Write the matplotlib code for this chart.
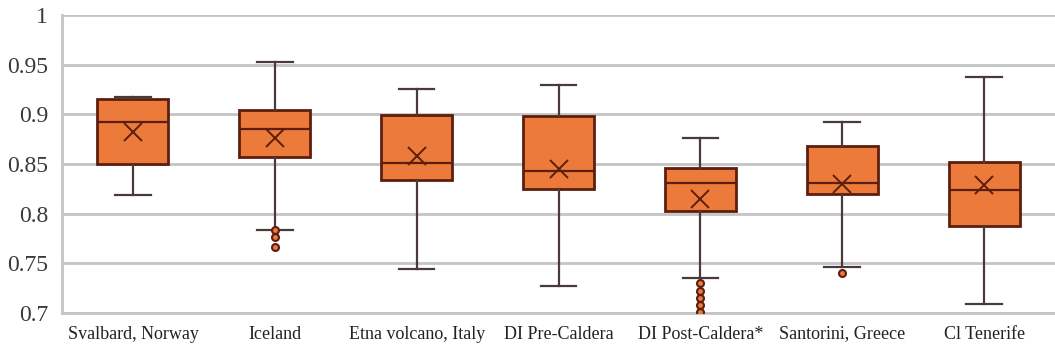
import matplotlib
matplotlib.use("Agg")
import matplotlib.pyplot as plt

plt.rcParams['font.family'] = ['Liberation Serif', 'DejaVu Serif']

# values
sites = ['Svalbard, Norway', 'Iceland', 'Etna volcano, Italy', 'DI Pre-Caldera',
         'DI Post-Caldera*', 'Santorini, Greece', 'Cl Tenerife']
whisker_low = [0.819, 0.784, 0.744, 0.727, 0.735, 0.746, 0.709]
q1 = [0.850, 0.857, 0.834, 0.825, 0.803, 0.820, 0.788]
median = [0.892, 0.885, 0.851, 0.843, 0.831, 0.831, 0.824]
q3 = [0.915, 0.904, 0.899, 0.898, 0.846, 0.868, 0.852]
whisker_high = [0.917, 0.953, 0.926, 0.930, 0.876, 0.892, 0.938]
mean = [0.882, 0.876, 0.858, 0.845, 0.815, 0.830, 0.829]
outliers = [[], [0.784, 0.777, 0.766], [], [], [0.730, 0.722, 0.715, 0.708, 0.701], [0.740], []]

yticks = [0.7, 0.75, 0.8, 0.85, 0.9, 0.95, 1.0]
ytick_labels = ['0.7', '0.75', '0.8', '0.85', '0.9', '0.95', '1']

orange = '#EC7A3A'
dark = '#5C1E0E'

stats = []
for i in range(len(sites)):
    stats.append(dict(label=sites[i], whislo=whisker_low[i], q1=q1[i], med=median[i],
                      q3=q3[i], whishi=whisker_high[i], mean=mean[i], fliers=outliers[i]))

fig = plt.figure(figsize=(10.55, 3.53), dpi=100)
ax = fig.add_axes([0.0588, 0.1133, 0.9412, 0.8442])

ax.bxp(stats, positions=range(len(sites)), widths=0.5, patch_artist=True, showmeans=True,
       boxprops=dict(facecolor=orange, edgecolor=dark, linewidth=2),
       medianprops=dict(color=dark, linewidth=1.6),
       whiskerprops=dict(color='#4a3a3a', linewidth=1.6),
       capprops=dict(color='#4a3a3a', linewidth=1.6),
       meanprops=dict(marker='x', markeredgecolor=dark, markersize=13, markeredgewidth=1.4),
       flierprops=dict(marker='o', markerfacecolor=orange, markeredgecolor=dark,
                       markersize=5, markeredgewidth=1.5),
       zorder=3)

ax.set_xlim(-0.5, len(sites) - 0.5)
ax.set_ylim(0.7, 1.0)
ax.set_yticks(yticks)
ax.set_yticklabels(ytick_labels, fontsize=17, color='#3a3a3a')
ax.set_xticks(range(len(sites)))
ax.set_xticklabels(sites, fontsize=13, color='#222222')
ax.tick_params(axis='y', length=0, pad=10)
ax.tick_params(axis='x', length=0, pad=9)

ax.yaxis.grid(True, color='#c4c4c4', linewidth=2)
ax.set_axisbelow(True)
for s in ['top', 'right']:
    ax.spines[s].set_visible(False)
for s in ['left', 'bottom']:
    ax.spines[s].set_color('#c4c4c4')
    ax.spines[s].set_linewidth(2)

fig.savefig('out.png', dpi=100)
